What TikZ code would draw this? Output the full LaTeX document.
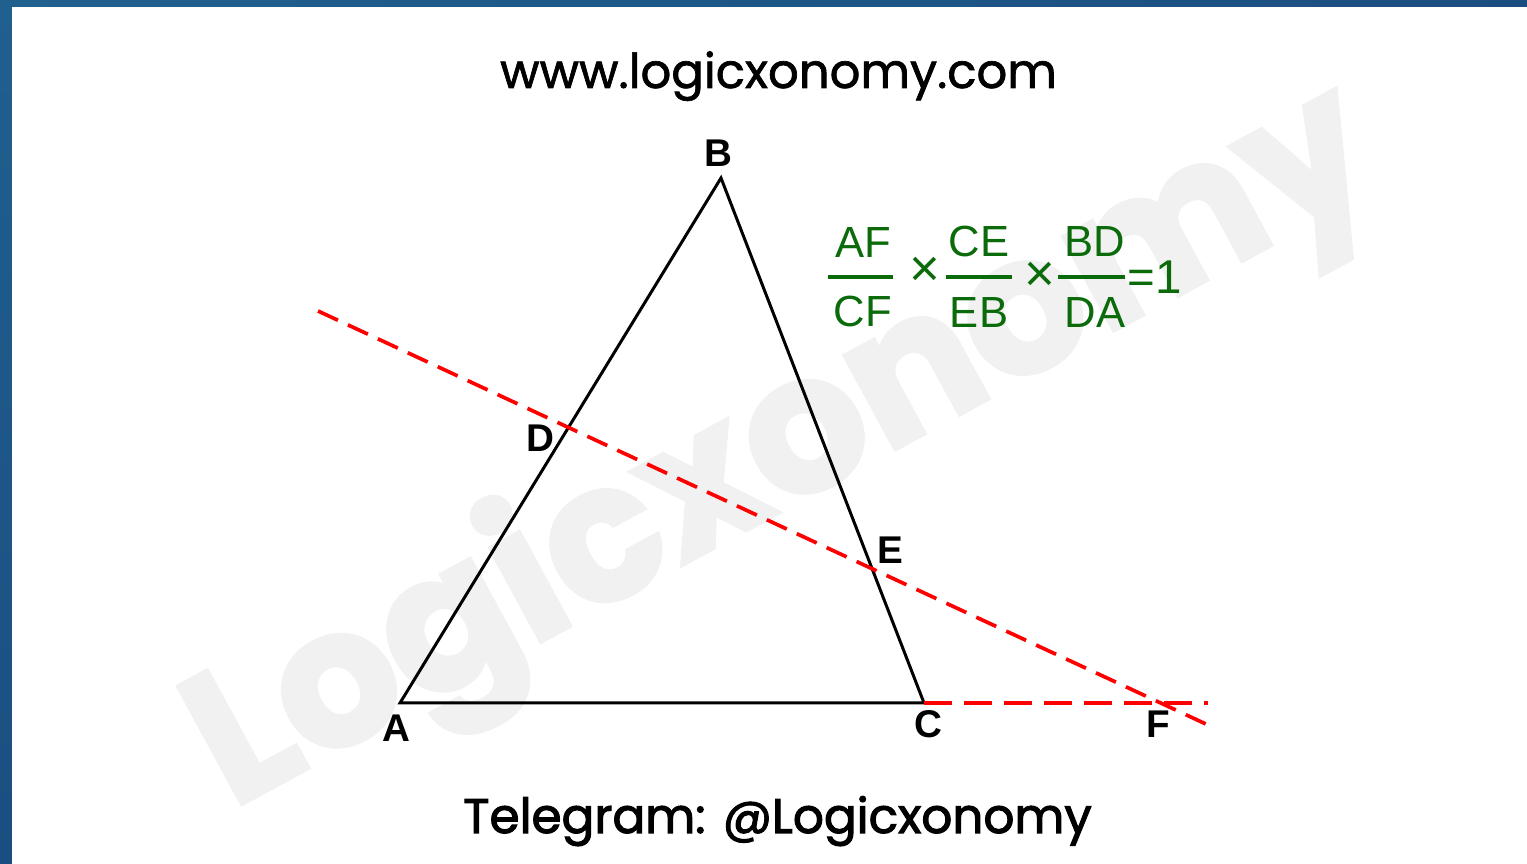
\documentclass[tikz,border=0pt]{standalone}
\usepackage{fontspec}
\setmainfont{Liberation Sans}
\newfontfamily\webfont{Poppins}[FakeBold=1.4]
\newfontfamily\tgfont{Poppins}[FakeBold=2.2]
\newfontfamily\markfont{Poppins}[BoldFeatures={FakeBold=2.5}]
\usetikzlibrary{positioning}
\definecolor{frameblue}{HTML}{20608E}
\definecolor{frameteal}{HTML}{2C7E9E}
\definecolor{framedark}{HTML}{1B4E80}
\definecolor{formgreen}{HTML}{0B6B0B}
\definecolor{markgray}{HTML}{F1F1F1}
\tikzset{
  tri/.style={line width=0.85pt, line join=miter},
  cutline/.style={red, line width=1.05pt, dash pattern=on 0.22cm off 0.11cm},
  baseline/.style={red, line width=1.05pt, dash pattern=on 0.28cm off 0.12cm},
  lbl/.style={font=\fontsize{11}{12}\selectfont\bfseries, inner sep=0pt},
  frm/.style={text=formgreen, font=\fontsize{12.4}{14}\selectfont, inner sep=0pt},
  fbar/.style={formgreen, line width=0.9pt}
}

\begin{document}
\begin{tikzpicture}
  \useasboundingbox (0,0) rectangle (15.27,8.64);
  % 背景と枠
  \fill[white] (0,0) rectangle (15.27,8.64);
  \shade[left color=frameblue, middle color=frameteal, right color=framedark]
    (0,8.57) rectangle (15.27,8.64);
  \shade[top color=frameblue, bottom color=framedark] (0,0) rectangle (0.12,8.64);

  % 透かし
  \node[rotate=28.5, text=markgray, font=\markfont\fontsize{54}{62}\selectfont\bfseries]
    (mark) at (7.85,4.12) {Logicxonomy};

  % 三角形 ABC
  \coordinate (A) at (4.00,1.61);
  \coordinate (B) at (7.21,6.86);
  \coordinate (C) at (9.24,1.61);
  \draw[tri] (A) -- (B) -- (C) -- cycle;

  % 直線 DEF と延長 CF
  \coordinate (P) at (3.18,5.53);
  \coordinate (Q) at (12.08,1.39);
  \coordinate (R) at (12.08,1.61);
  \draw[cutline] (P) -- (Q);
  \draw[baseline] (C) -- (R);

  % 頂点ラベル
  \node[lbl] (lA) at (3.96,1.36) {A};
  \node[lbl] (lB) at (7.18,7.11) {B};
  \node[lbl] (lC) at (9.28,1.40) {C};
  \node[lbl] (lD) at (5.40,4.26) {D};
  \node[lbl] (lE) at (8.90,3.14) {E};
  \node[lbl] (lF) at (11.58,1.40) {F};

  % メネラウスの定理
  \node[frm] (n1) at (8.63,6.21) {AF};
  \node[frm] (d1) at (8.63,5.52) {CF};
  \node[frm, font=\fontsize{15}{16}\selectfont] (t1) at (9.25,5.92) {×};
  \node[frm] (n2) at (9.79,6.22) {CE};
  \node[frm] (d2) at (9.79,5.51) {EB};
  \node[frm, font=\fontsize{15}{16}\selectfont] (t2) at (10.40,5.87) {×};
  \node[frm] (n3) at (10.95,6.22) {BD};
  \node[frm] (d3) at (10.95,5.51) {DA};
  \node[frm, font=\fontsize{13.5}{15}\selectfont] (eq) at (11.55,5.87) {=1};
  \draw[fbar] (8.28,5.87) -- (8.93,5.87);
  \draw[fbar] (9.46,5.87) -- (10.12,5.87);
  \draw[fbar] (10.58,5.87) -- (11.25,5.87);

  % 文字
  \node[font=\webfont\fontsize{13.7}{16}\selectfont, anchor=base] (site) at (7.785,7.76) {www.logicxonomy.com};
  \node[font=\tgfont\fontsize{13.8}{16}\selectfont, anchor=base] (tg) at (7.775,0.31) {Telegram: @Logicxonomy};
\end{tikzpicture}
\end{document}
